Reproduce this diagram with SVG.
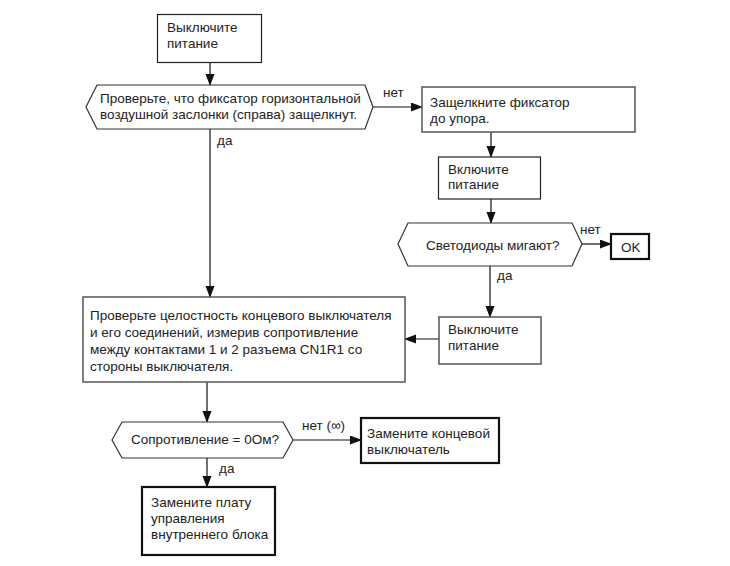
<svg xmlns="http://www.w3.org/2000/svg" width="730" height="566" viewBox="0 0 730 566">
<defs>
<marker id="ah" markerWidth="12" markerHeight="10" refX="11" refY="4.5" orient="auto" markerUnits="userSpaceOnUse">
<path d="M0,0 L12,4.5 L0,9 Z" fill="#111"/>
</marker>
<style>
text{font-family:"Liberation Sans",Arial,sans-serif;font-size:13.5px;fill:#222}
.b{fill:#fff;stroke:#222;stroke-width:1.2}
.g{fill:#fff;stroke:#555;stroke-width:1.5}
.t{fill:#fff;stroke:#111;stroke-width:2.2}
.h{fill:#fff;stroke:#333;stroke-width:1.2}
.c{fill:none;stroke:#111;stroke-width:1.2;marker-end:url(#ah)}
</style>
</defs>
<rect width="730" height="566" fill="#fff"/>
<g id="connectors">
<path class="c" d="M210,63 V85"/>
<path class="c" d="M373,107 H422"/>
<path class="c" d="M491,132 V157"/>
<path class="c" d="M491,199 V223"/>
<path class="c" d="M582,244 H611"/>
<path class="c" d="M490,266 V317"/>
<path class="c" d="M439,339 H405"/>
<path class="c" d="M210,129 V297"/>
<path class="c" d="M207,382 V422"/>
<path class="c" d="M293,440 H361"/>
<path class="c" d="M207,458 V487"/>
<text x="383" y="97">нет</text>
<text x="217" y="145">да</text>
<text x="580" y="234">нет</text>
<text x="497" y="280">да</text>
<text x="302" y="430">нет (∞)</text>
<text x="219" y="473">да</text>
</g>
<g id="n1"><rect class="b" x="157.5" y="14.5" width="104" height="48"/>
<text x="167" y="32">Выключите</text><text x="167" y="48">питание</text></g>
<g id="n2"><path class="h" d="M86,107 L97,85 L365,85 L373,107 L365,129 L97,129 Z"/>
<text x="100" y="103">Проверьте, что фиксатор горизонтальной</text>
<text x="100" y="119">воздушной заслонки (справа) защелкнут.</text></g>
<g id="n3"><rect class="g" x="422" y="87" width="213" height="45"/>
<text x="430" y="107">Защелкните фиксатор</text><text x="430" y="123">до упора.</text></g>
<g id="n4"><rect class="b" x="438.5" y="157" width="102" height="42"/>
<text x="448" y="174">Включите</text><text x="448" y="189">питание</text></g>
<g id="n5"><path class="h" d="M398,244 L408,223 L572,223 L582,244 L572,266 L408,266 Z"/>
<text x="426" y="250">Светодиоды мигают?</text></g>
<g id="n6"><rect class="t" x="611" y="234" width="38" height="25"/>
<text x="621" y="252">OK</text></g>
<g id="n7"><rect class="g" x="439" y="317" width="102" height="47"/>
<text x="448" y="334">Выключите</text><text x="448" y="350">питание</text></g>
<g id="n8"><rect class="g" x="83" y="297" width="322" height="85"/>
<text x="90" y="320">Проверьте целостность концевого выключателя</text>
<text x="90" y="337">и его соединений, измерив сопротивление</text>
<text x="90" y="354">между контактами 1 и 2 разъема CN1R1 со</text>
<text x="90" y="371">стороны выключателя.</text></g>
<g id="n9"><path class="h" d="M112,440 L122,422 L283,422 L293,440 L283,458 L122,458 Z"/>
<text x="131" y="444">Сопротивление = 0Ом?</text></g>
<g id="n10"><rect class="t" x="361" y="418" width="138" height="45"/>
<text x="367" y="438">Замените концевой</text><text x="367" y="454">выключатель</text></g>
<g id="n11"><rect class="t" x="142" y="487" width="133" height="68"/>
<text x="151" y="507">Замените плату</text><text x="151" y="523">управления</text><text x="151" y="539">внутреннего блока</text></g>
</svg>
